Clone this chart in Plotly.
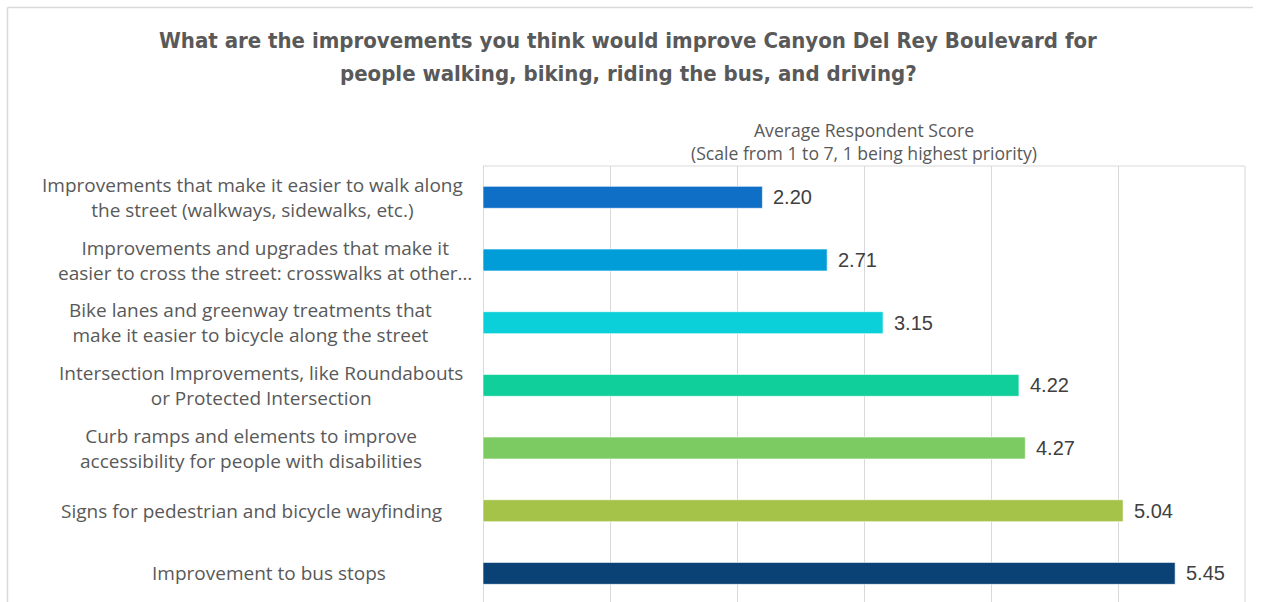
import plotly.graph_objects as go

# Survey results: average priority score per improvement type
categories = [
    "Improvements that make it easier to walk along<br>the street (walkways, sidewalks, etc.)",
    "Improvements and upgrades that make it<br>easier to cross the street: crosswalks at other\u2026",
    "Bike lanes and greenway treatments that<br>make it easier to bicycle along the street",
    "Intersection Improvements, like Roundabouts<br>or Protected Intersection",
    "Curb ramps and elements to improve<br>accessibility for people with disabilities",
    "Signs for pedestrian and bicycle wayfinding",
    "Improvement to bus stops",
]
scores = [2.20, 2.71, 3.15, 4.22, 4.27, 5.04, 5.45]
x_ticks = [0, 1, 2, 3, 4, 5, 6]

bar_colors = ["#0F6FC6", "#009DD9", "#0BD0D9", "#10CF9B", "#7CCA62", "#A5C249", "#0B4276"]

W, H = 1261, 602
L, R, T, B = 483, 16, 166, 0
plot_w = W - L - R
plot_h = H - T - B


def px_x(px):
    return (px - L) / plot_w


def px_y(py):
    return (H - B - py) / plot_h


# horizontal centre of each category label block, in pixels
label_centres = [252, 265, 250, 261, 251, 251, 269]

text_grey = "#595959"
grid_grey = "#D9D9D9"
body_font = "Open Sans, Liberation Sans, Arial, sans-serif"

fig = go.Figure(
    go.Bar(
        x=scores,
        y=categories,
        orientation="h",
        marker=dict(color=bar_colors, line=dict(color="rgba(255,255,255,0.6)", width=1)),
        width=0.35,
        hoverinfo="x+y",
    )
)

annotations = []
for cat, cx in zip(categories, label_centres):
    annotations.append(dict(
        x=px_x(cx), xref="paper", y=cat, yref="y",
        text=cat, showarrow=False, xanchor="center", yanchor="middle", align="center",
        font=dict(family=body_font, size=19, color=text_grey),
    ))

for cat, v in zip(categories, scores):
    annotations.append(dict(
        x=v, xref="x", y=cat, yref="y", text=f"{v:.2f}", showarrow=False,
        xanchor="left", yanchor="middle", xshift=9,
        font=dict(family="Liberation Sans, Arial, sans-serif", size=20, color="#404040"),
    ))

# chart title
for line, py in [("What are the improvements you think would improve Canyon Del Rey Boulevard for", 40),
                 ("people walking, biking, riding the bus, and driving?", 73)]:
    annotations.append(dict(
        x=px_x(628), xref="paper", y=px_y(py), yref="paper", text=line, showarrow=False,
        xanchor="center", yanchor="middle",
        font=dict(family="DejaVu Sans Condensed, Arial Narrow, sans-serif",
                  size=22, color=text_grey, weight="bold"),
    ))

# axis title above the plot
for line, py in [("Average Respondent Score", 130),
                 ("(Scale from 1 to 7, 1 being highest priority)", 153)]:
    annotations.append(dict(
        x=0.5, xref="paper", y=px_y(py), yref="paper", text=line, showarrow=False,
        xanchor="center", yanchor="middle",
        font=dict(family=body_font, size=17.6, color=text_grey),
    ))

shapes = [
    # plot area edges
    dict(type="line", xref="paper", yref="paper", x0=0, x1=1, y0=1, y1=1,
         line=dict(color=grid_grey, width=1)),
    dict(type="line", xref="paper", yref="paper", x0=1, x1=1, y0=1, y1=-0.05,
         line=dict(color=grid_grey, width=1)),
    # outer chart frame (top and left)
    dict(type="line", xref="paper", yref="paper", x0=px_x(7.5), x1=px_x(1253), y0=px_y(7.5), y1=px_y(7.5),
         line=dict(color=grid_grey, width=1.5)),
    dict(type="line", xref="paper", yref="paper", x0=px_x(7.5), x1=px_x(7.5), y0=px_y(7.5), y1=px_y(610),
         line=dict(color=grid_grey, width=1.5)),
]

fig.update_layout(
    width=W, height=H, autosize=False,
    margin=dict(l=L, r=R, t=T, b=B, pad=0),
    paper_bgcolor="white", plot_bgcolor="white",
    showlegend=False,
    annotations=annotations,
    shapes=shapes,
    xaxis=dict(range=[0, 6], tickvals=x_ticks, showticklabels=False, showgrid=True,
               gridcolor=grid_grey, gridwidth=1, zeroline=True, zerolinecolor=grid_grey,
               zerolinewidth=1, showline=False, ticks=""),
    yaxis=dict(type="category", categoryorder="array", categoryarray=categories,
               range=[6.457, -0.5], showticklabels=False, showgrid=False, ticks="",
               showline=False, zeroline=False),
)

fig.write_html("out.html")
